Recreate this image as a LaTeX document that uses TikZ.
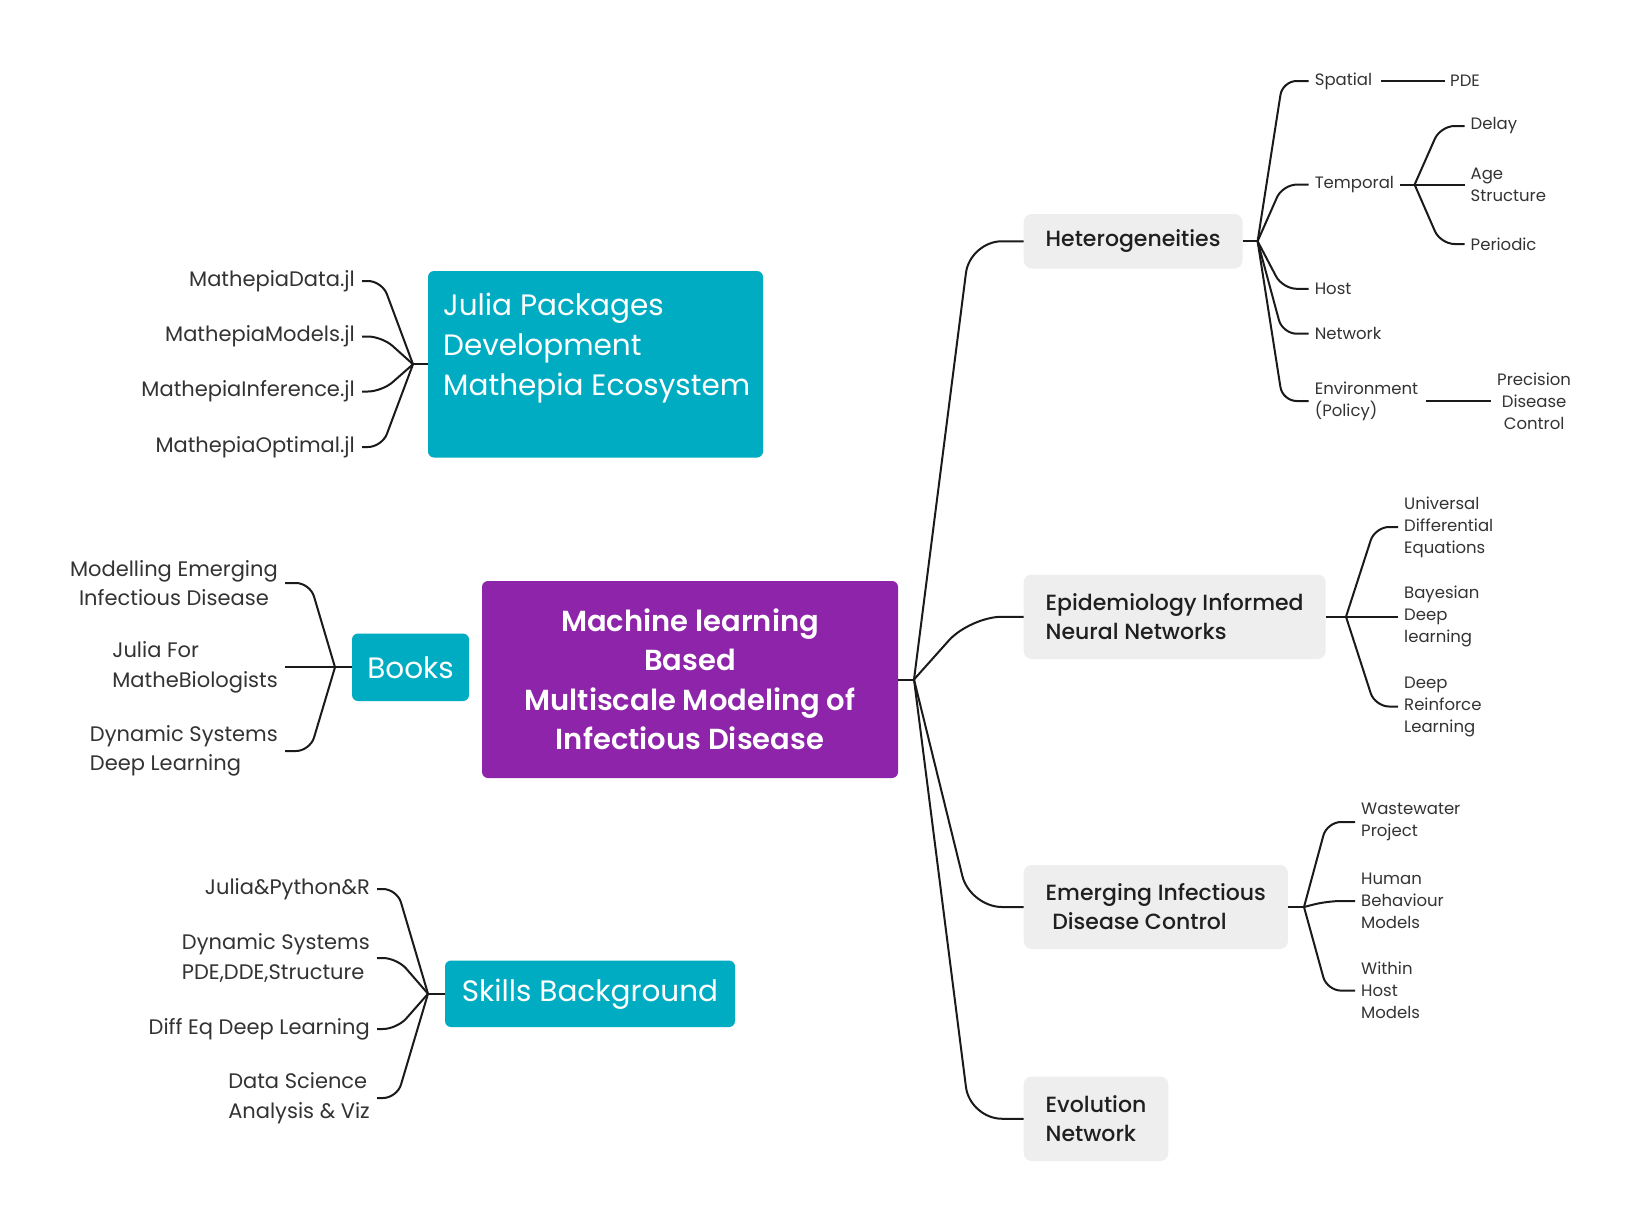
\documentclass[tikz,border=0pt]{standalone}
\usepackage{fontspec}
\setmainfont{Poppins}
\newfontfamily\pmed{Poppins Medium}
\newfontfamily\psemi{Poppins SemiBold}
\definecolor{mlpurple}{HTML}{8E24AA}
\definecolor{mlcyan}{HTML}{00ACC1}
\definecolor{mlgrey}{HTML}{EEEEEE}
\definecolor{leaftxt}{HTML}{333333}
\definecolor{boxtxt}{HTML}{1F1F1F}
\definecolor{linec}{HTML}{1A1A1A}
\begin{document}
\begin{tikzpicture}[x=1pt,y=-1pt,
 conn/.style={draw=linec,line width=2pt,rounded corners=14},
 mainconn/.style={draw=linec,line width=2pt,rounded corners=32},
 stub/.style={draw=linec,line width=2pt},
 central/.style={fill=mlpurple,rounded corners=6,text=white,font=\psemi\fontsize{29}{39.5}\selectfont,align=center,minimum width=416,minimum height=197,inner sep=0},
 cyanbox/.style={fill=mlcyan,rounded corners=6,text=white,font=\fontsize{29.5}{40}\selectfont,inner sep=0},
 greybox/.style={fill=mlgrey,rounded corners=8,text=boxtxt,font=\pmed\fontsize{22}{29}\selectfont,align=left,anchor=west,inner xsep=22,inner ysep=0},
 leafL/.style={text=leaftxt,font=\fontsize{21}{29.5}\selectfont,anchor=east,inner xsep=7,inner ysep=0},
 leafR/.style={text=leaftxt,font=\fontsize{16.5}{22}\selectfont,anchor=west,inner xsep=6,inner ysep=0,align=left},
]
\useasboundingbox (0,0) rectangle (1646,1223);
\fill[white] (0,0) rectangle (1646,1223);

% central
\node[central] (c) at (690,679.5) {Machine learning\\Based\\Multiscale Modeling of\\Infectious Disease};
\coordinate (hc) at (914,679.5);
\draw[stub] (c.east) -- (hc);

% Julia packages
\node[cyanbox,minimum width=335,minimum height=186.5] (jp) at (595.5,364.25) {};
\node[text=white,font=\fontsize{29.5}{40}\selectfont,align=left,anchor=west,inner sep=0] (jt) at (443,348) {Julia Packages\\Development\\Mathepia Ecosystem};
\coordinate (hj) at (413,364.25);
\draw[stub] (jp.west) -- (hj);
\node[leafL] (j1) at (362,281) {MathepiaData.jl};
\node[leafL] (j2) at (362,336.5) {MathepiaModels.jl};
\node[leafL] (j3) at (362,391.5) {MathepiaInference.jl};
\node[leafL] (j4) at (362,447) {MathepiaOptimal.jl};
\foreach \n in {j1,j2,j3,j4} \draw[conn] (hj) -- ([xshift=20]\n.east) -- (\n.east);

% Books
\node[cyanbox,minimum width=117,minimum height=67.5] (bk) at (410.5,667.25) {Books};
\coordinate (hb) at (335,667.25);
\draw[stub] (bk.west) -- (hb);
\node[leafL,align=center] (b1) at (285,583) {Modelling Emerging\\Infectious Disease};
\node[leafL,align=left] (b2) at (285,667.25) {Julia For\\MatheBiologists};
\node[leafL,align=left] (b3) at (285,751) {Dynamic Systems\\Deep Learning};
\foreach \n in {b1,b2,b3} \draw[conn] (hb) -- ([xshift=25]\n.east) -- (\n.east);

% Skills
\node[cyanbox,minimum width=290,minimum height=66.5] (sk) at (590,993.75) {Skills Background};
\coordinate (hs) at (428,993.75);
\draw[stub] (sk.west) -- (hs);
\node[leafL] (s1) at (377,889) {Julia\&Python\&R};
\node[leafL,align=left] (s2) at (377,958) {Dynamic Systems\\PDE,DDE,Structure};
\node[leafL] (s3) at (377,1029) {Diff Eq Deep Learning};
\node[leafL,align=left] (s4) at (377,1098) {Data Science\\Analysis \& Viz};
\foreach \n in {s1,s2,s3,s4} \draw[conn] (hs) -- ([xshift=20]\n.east) -- (\n.east);

% Heterogeneities
\node[greybox,minimum height=54.5] (he) at (1023.5,241.25) {Heterogeneities};
\coordinate (hh) at (1257.6,241.25);
\draw[stub] (he.east) -- (hh);
\node[leafR] (sp) at (1308.6,81) {Spatial};
\node[leafR] (tm) at (1308.6,184.6) {Temporal};
\node[leafR] (ho) at (1308.6,288.8) {Host};
\node[leafR] (nw) at (1308.6,333.7) {Network};
\node[leafR] (en) at (1308.6,401) {Environment\\(Policy)};
\foreach \n in {sp,tm,ho,nw,en} \draw[conn] (hh) -- ([xshift=-26]\n.west) -- (\n.west);
\node[leafR,inner xsep=5] (pde) at (1445,81) {PDE};
\draw[stub] ([xshift=3]sp.east) -- (pde.west);
\coordinate (ht) at (1414.6,184.6);
\draw[stub] (tm.east) -- (ht);
\node[leafR] (de) at (1464.5,126) {Delay};
\node[leafR] (ag) at (1464.5,184.6) {Age\\Structure};
\node[leafR] (pe) at (1464.5,244) {Periodic};
\foreach \n in {de,ag,pe} \draw[conn] (ht) -- ([xshift=-24]\n.west) -- (\n.west);
\node[leafR,align=center] (pdc) at (1491,401) {Precision\\Disease\\Control};
\draw[stub] ([xshift=2]en.east) -- (pdc.west);

% EINN
\node[greybox,minimum height=84.5] (ei) at (1023.5,616.75) {Epidemiology Informed\\Neural Networks};
\coordinate (hi) at (1346,616.75);
\draw[stub] (ei.east) -- (hi);
\node[leafR] (u1) at (1398,527) {Universal\\Differential\\Equations};
\node[leafR] (u2) at (1398,616.75) {Bayesian\\Deep\\learning};
\node[leafR] (u3) at (1398,706.5) {Deep\\Reinforce\\Learning};
\foreach \n in {u1,u2,u3} \draw[conn] (hi) -- ([xshift=-23]\n.west) -- (\n.west);

% EIDC
\node[greybox,minimum height=84] (ec) at (1023.5,907) {Emerging Infectious\\\hspace{0.3em}Disease Control};
\coordinate (hd) at (1304,907);
\draw[stub] (ec.east) -- (hd);
\node[leafR] (w1) at (1355,822) {Wastewater\\Project};
\node[leafR] (w2) at (1355,901) {Human\\Behaviour\\Models};
\node[leafR] (w3) at (1355,990.6) {Within\\Host\\Models};
\foreach \n in {w1,w2,w3} \draw[conn] (hd) -- ([xshift=-28]\n.west) -- (\n.west);

% Evolution
\node[greybox,minimum height=84.5] (ev) at (1023.5,1118.75) {Evolution\\Network};

% main connectors
\foreach \n in {he,ei,ec,ev} \draw[mainconn] (hc) -- ([xshift=-53.5]\n.west) -- (\n.west);
\end{tikzpicture}
\end{document}
